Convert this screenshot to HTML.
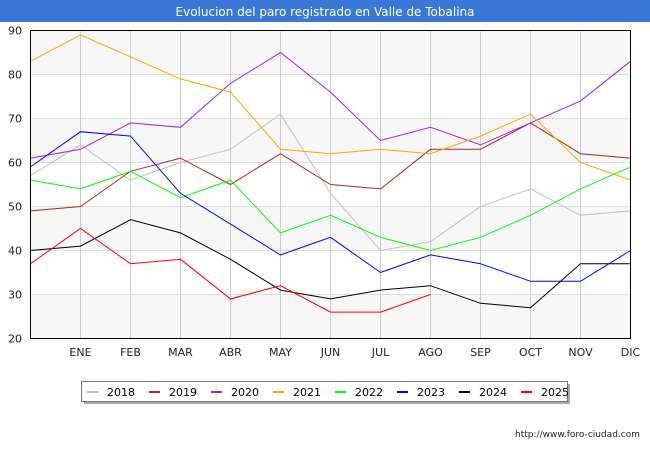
<!DOCTYPE html>
<html><head><meta charset="utf-8"><style>
body{margin:0;background:#fff;font-family:"Liberation Sans","DejaVu Sans",sans-serif}
</style></head><body>
<svg width="650" height="450" xmlns="http://www.w3.org/2000/svg" font-family="DejaVu Sans, Liberation Sans, sans-serif">
<rect x="0" y="0" width="650" height="22" fill="#3a78d8"/>
<text x="325" y="16" text-anchor="middle" fill="#fff" font-size="12">Evolucion del paro registrado en Valle de Tobalina</text>
<g id="bands"></g>
<g id="grid"></g>
<g id="axes" font-size="11" fill="#222"></g>
<g id="series"></g>
<rect x="30.5" y="30.5" width="600" height="308" fill="none" stroke="#000"/>
<rect x="84" y="384" width="486" height="20" fill="#aaa"/>
<rect x="81.5" y="381.5" width="486" height="20" fill="#fff" stroke="#777"/>
<g id="legend" font-size="11"></g>
<text x="640" y="437" text-anchor="end" font-size="9" fill="#222">http://www.foro-ciudad.com</text>
</svg>
<script>
const months=["","ENE","FEB","MAR","ABR","MAY","JUN","JUL","AGO","SEP","OCT","NOV","DIC"];
const yTicks=[20,30,40,50,60,70,80,90];
const years=["2018","2019","2020","2021","2022","2023","2024","2025"];
const colors=["#c0c0c0","#a52a2a","#a020f0","#ffa500","#00ff00","#0000ff","#000000","#ff0000"];
const s2018=[57,64,56,60,63,71,53,40,42,50,54,48,49];
const s2019=[49,50,58,61,55,62,55,54,63,63,69,62,61];
const s2020=[61,63,69,68,78,85,76,65,68,64,69,74,83];
const s2021=[83,89,84,79,76,63,62,63,62,66,71,60,56];
const s2022=[56,54,58,52,56,44,48,43,40,43,48,54,59];
const s2023=[59,67,66,53,46,39,43,35,39,37,33,33,40];
const s2024=[40,41,47,44,38,31,29,31,32,28,27,37,37];
const s2025=[37,45,37,38,29,32,26,26,30];
const series=[s2018,s2019,s2020,s2021,s2022,s2023,s2024,s2025];
const NS="http://www.w3.org/2000/svg";
const X=i=>30.5+i*50, Y=v=>30.5+(90-v)*4.4;
function mk(t,a,p){const e=document.createElementNS(NS,t);for(const k in a)e.setAttribute(k,a[k]);p.appendChild(e);return e;}
const bands=document.getElementById('bands'),grid=document.getElementById('grid'),axes=document.getElementById('axes');
for(let v=20;v<90;v+=20){const r=mk('rect',{x:30.5,y:Y(v+10),width:600,height:44,fill:'#f7f7f7'},bands);

}
mk('rect',{x:30.5,y:Y(90),width:600,height:44,fill:'#f7f7f7'},bands);
yTicks.forEach(v=>{const l=mk('line',{x1:30.5,x2:630.5,y1:Y(v),y2:Y(v),stroke:'#ddd'},grid);


const t=mk('text',{x:22,y:Y(v)+4,'text-anchor':'end'},axes);t.textContent=v;

});
months.forEach((m,i)=>{if(i==0)return;const l=mk('line',{x1:X(i),x2:X(i),y1:30.5,y2:338.5,stroke:'#ccc'},grid);


const t=mk('text',{x:X(i),y:356,'text-anchor':'middle'},axes);t.textContent=m;

});
const sg=document.getElementById('series');
series.forEach((s,k)=>{const p=mk('polyline',{points:s.map((v,i)=>X(i)+','+Y(v)).join(' '),fill:'none',stroke:colors[k],'stroke-width':1},sg);

});
const lg=document.getElementById('legend');
years.forEach((y,k)=>{const x=87+k*62;
const r=mk('rect',{x:x,y:391,width:11,height:2,fill:colors[k]},lg);


const t=mk('text',{x:x+20,y:396,fill:'#000'},lg);t.textContent=y;

});
</script>
</body></html>
